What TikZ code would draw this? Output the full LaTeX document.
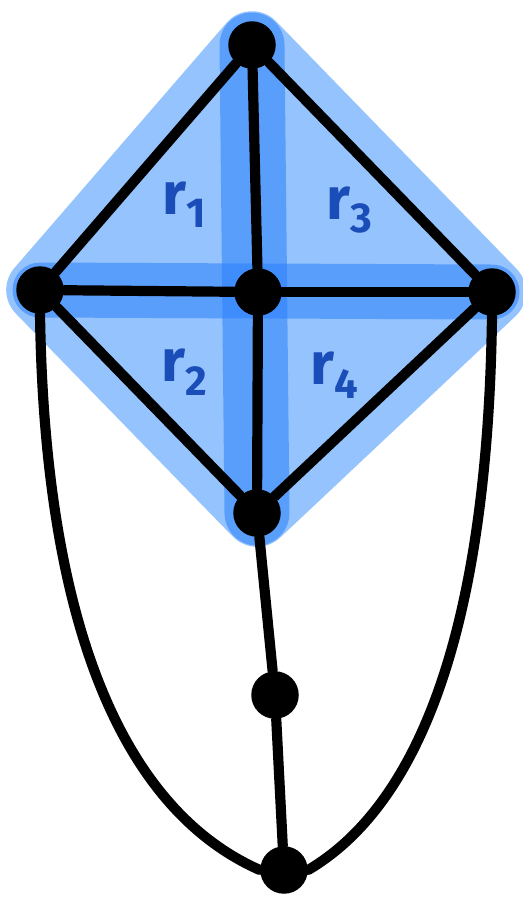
\documentclass[tikz,border=0pt]{standalone}
\usepackage{fontspec}
\setsansfont{Fira Sans}
\usepackage{tikz}
\usetikzlibrary{backgrounds}

\definecolor{halo}{HTML}{95C3FD}
\definecolor{strip}{HTML}{2A80FC}
\definecolor{rdark}{HTML}{1A4DB8}

\begin{document}
\begin{tikzpicture}[
    vtx/.style={circle,fill=black,minimum size=0.95cm,inner sep=0pt},
    edge/.style={line width=5.8pt,line cap=round,line join=round},
    glow/.style={halo,line width=1.35cm,line join=round},
    band/.style={strip,opacity=0.55,line cap=round},
    lbl/.style={text=rdark,font=\sffamily\bfseries\fontsize{34}{34}\selectfont}
]
\useasboundingbox (0,0) rectangle (10.44,-18);
\node[vtx] (top)   at (5.04,-0.9)  {};
\node[vtx] (left)  at (0.8,-5.8)   {};
\node[vtx] (mid)   at (5.16,-5.84) {};
\node[vtx] (right) at (9.84,-5.84) {};
\node[vtx] (low)   at (5.14,-10.26){};
\node[vtx] (tail)  at (5.5,-13.9)  {};
\node[vtx] (foot)  at (5.68,-17.4) {};
\node[lbl] (r1) at (3.7,-4.1)  {r\textsubscript{1}};
\node[lbl] (r3) at (7.0,-4.2)  {r\textsubscript{3}};
\node[lbl] (r2) at (3.7,-7.44) {r\textsubscript{2}};
\node[lbl] (r4) at (6.7,-7.5)  {r\textsubscript{4}};
\begin{scope}[on background layer]
  \filldraw[glow] (top.center) -- (right.center) -- (low.center)
      -- (left.center) -- cycle;
  \draw[band,line width=1.3cm] (top.center) -- (low.center);
  \draw[band,line width=1.1cm] (left.center) -- (right.center);
\end{scope}
\draw[edge] (top) -- (left);
\draw[edge] (top) -- (mid);
\draw[edge] (top) -- (right);
\draw[edge] (left) -- (mid);
\draw[edge] (mid) -- (right);
\draw[edge] (left) -- (low);
\draw[edge] (mid) -- (low);
\draw[edge] (right) -- (low);
\draw[edge] (low) -- (tail);
\draw[edge] (tail) -- (foot);
\draw[edge] (left.south) .. controls (0.9,-13) and (2.7,-16.3) .. (foot.west);
\draw[edge] (right.south) .. controls (9.75,-13) and (8.2,-16.2) .. (foot.east);
\end{tikzpicture}
\end{document}
